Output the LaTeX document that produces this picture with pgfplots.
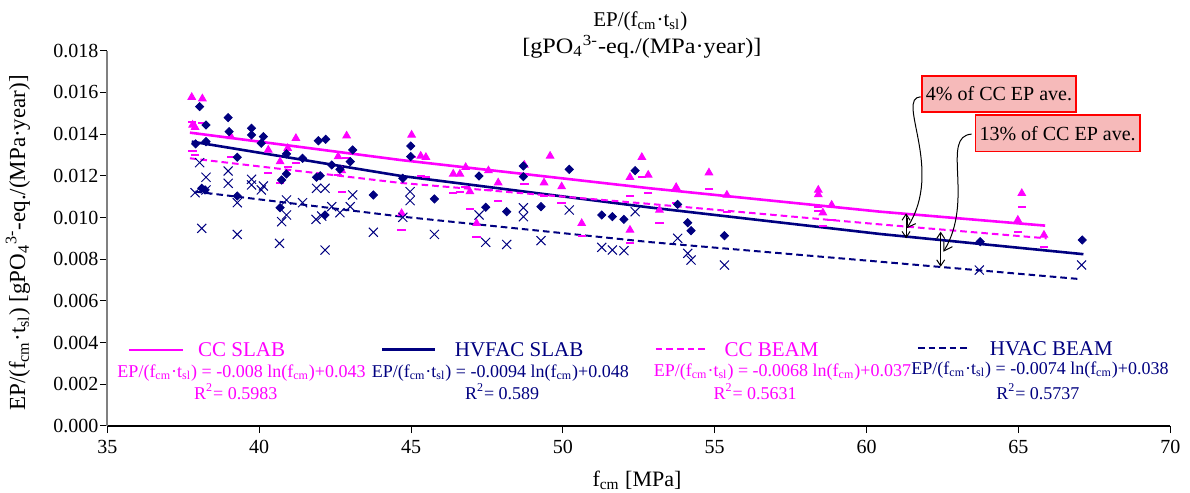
\documentclass[border=0pt]{standalone}
\usepackage{fontspec}
\setmainfont{Liberation Serif}
\usepackage{pgfplots}
\pgfplotsset{compat=1.18}
\usetikzlibrary{arrows.meta}
\definecolor{mag}{RGB}{255,0,255}
\definecolor{nav}{RGB}{0,0,128}
\definecolor{boxfill}{RGB}{246,186,186}
\newcommand{\fcm}{f\textsubscript{cm}}
\newcommand{\tsl}{t\textsubscript{sl}}
\begin{document}
\begin{tikzpicture}
\path[use as bounding box] (-53.65pt,-33.5pt) rectangle (541.35pt,213pt);
\begin{axis}[
  at={(0pt,0pt)}, anchor=south west,
  scale only axis, width=531.5pt, height=187.65pt,
  xmin=35, xmax=70, ymin=0, ymax=0.018,
  axis x line*=bottom, axis y line*=left,
  x axis line style={draw=black, line width=0.6pt},
  y axis line style={draw=gray, line width=1pt},
  xtick={35,40,45,50,55,60,65,70},
  ytick={0,0.002,0.004,0.006,0.008,0.010,0.012,0.014,0.016,0.018},
  scaled y ticks=false,
  yticklabel style={/pgf/number format/.cd, fixed, fixed zerofill, precision=3, /tikz/.cd, inner xsep=0.8pt},
  /pgf/number format/assume math mode=true,
  tick align=outside, major tick length=3.5pt,
  tick style={black, line width=0.5pt},
  tick label style={font=\fontsize{10}{12}\selectfont},
  clip=false,
]
% CC SLAB points
\addplot[only marks, mark=triangle*, mark size=2.2pt, color=mag] coordinates {
(37.78,0.01577) (38.13,0.01570) (37.81,0.01444) (37.89,0.01433) (39.07,0.01388)
(40.30,0.01324) (40.69,0.01268) (40.94,0.01332) (41.21,0.01380) (42.88,0.01392)
(42.60,0.01292) (42.72,0.01225) (45.02,0.01396) (45.32,0.01295) (45.49,0.01289)
(44.69,0.01020) (46.39,0.01209) (46.61,0.01209) (46.80,0.01241) (46.94,0.01124)
(47.16,0.00972) (47.55,0.01225) (47.87,0.01167) (48.73,0.01252) (49.38,0.01167)
(49.58,0.01295) (49.96,0.01148) (50.62,0.00972) (52.21,0.01193) (52.21,0.00940)
(52.60,0.01289) (52.81,0.01204) (53.18,0.01036) (53.73,0.01145) (54.81,0.01215)
(55.40,0.01108) (58.41,0.01132) (58.41,0.01110) (58.85,0.01060) (58.56,0.01023)
(65.11,0.01116) (64.98,0.00988) (65.84,0.00916)
};
% CC BEAM points
\addplot[only marks, mark=-, mark size=2.1pt, color=mag, mark options={line width=1pt}] coordinates {
(37.78,0.01460) (38.13,0.01455) (37.81,0.01319) (37.89,0.01300) (39.07,0.01290)
(40.30,0.01212) (40.69,0.01167) (40.94,0.01240) (41.21,0.01260) (42.88,0.01284)
(42.60,0.01205) (42.72,0.01124) (45.02,0.01292) (45.32,0.01200) (45.49,0.01196)
(44.69,0.00940) (46.39,0.01116) (46.61,0.01120) (46.80,0.01145) (46.94,0.01039)
(47.16,0.00908) (47.55,0.01132) (47.87,0.01081) (48.73,0.01161) (49.38,0.01103)
(49.58,0.01196) (49.96,0.01068) (50.62,0.00911) (52.21,0.01103) (52.21,0.00879)
(52.60,0.01196) (52.81,0.01116) (53.18,0.00972) (53.73,0.01068) (54.81,0.01137)
(55.40,0.01028) (58.41,0.01049) (58.41,0.01030) (58.85,0.00988) (58.56,0.00961)
(65.11,0.01052) (64.98,0.00932) (65.84,0.00860)
};
% HVFAC SLAB points
\addplot[only marks, mark=square*, mark size=1.45pt, color=nav, mark options={rotate=45}] coordinates {
(38.04,0.01532) (38.25,0.01444) (37.91,0.01353) (38.25,0.01364) (38.98,0.01479)
(39.01,0.01412) (39.28,0.01289) (39.75,0.01428) (39.75,0.01396) (40.14,0.01388)
(40.07,0.01356) (38.11,0.01140) (38.22,0.01132) (39.28,0.01103) (40.69,0.01047)
(40.74,0.01180) (40.90,0.01209) (40.90,0.01305) (41.43,0.01284) (41.89,0.01193)
(42.01,0.01200) (41.95,0.01368) (42.19,0.01375) (42.17,0.01012) (42.39,0.01252)
(42.66,0.01231) (43.00,0.01268) (43.08,0.01324) (43.76,0.01108) (44.99,0.01343)
(44.99,0.01292) (44.73,0.01188) (45.77,0.01089) (47.24,0.01199) (47.46,0.01049)
(48.15,0.01028) (48.70,0.01247) (48.70,0.01196) (49.28,0.01052) (50.21,0.01231)
(51.28,0.01012) (51.63,0.01004) (52.01,0.00991) (52.38,0.01225) (53.78,0.01063)
(54.11,0.00975) (54.22,0.00937) (55.32,0.00913) (63.74,0.00884) (67.10,0.00892)
};
% HVAC BEAM points
\addplot[only marks, mark=x, mark size=3.2pt, color=nav, mark options={line width=0.5pt}] coordinates {
(38.04,0.01263) (38.25,0.01193) (37.89,0.01119) (38.25,0.01132) (38.11,0.00948)
(38.98,0.01223) (38.98,0.01164) (39.28,0.01071) (39.28,0.00919) (39.75,0.01183)
(39.75,0.01156) (40.14,0.01151) (40.07,0.01132) (40.90,0.01084) (40.90,0.01012)
(40.74,0.00980) (40.67,0.00876) (41.43,0.01071) (41.89,0.01140) (42.17,0.01140)
(41.87,0.00991) (42.06,0.01007) (42.17,0.00844) (42.39,0.01052) (42.66,0.01023)
(43.00,0.01052) (43.08,0.01108) (43.76,0.00929) (44.97,0.01124) (44.97,0.01081)
(44.73,0.01001) (45.77,0.00919) (47.24,0.01012) (47.46,0.00881) (48.15,0.00871)
(48.70,0.01047) (48.70,0.01004) (49.28,0.00889) (50.21,0.01036) (51.28,0.00857)
(51.63,0.00844) (52.01,0.00841) (52.38,0.01028) (53.78,0.00900) (54.11,0.00828)
(54.22,0.00796) (55.32,0.00772) (63.71,0.00748) (67.08,0.00772)
};
% trend lines
\addplot[mag, line width=1.3pt, no marks] coordinates {
(37.72,0.01407) (44.64,0.01276) (52.87,0.01140) (60.44,0.01028) (65.88,0.00961)};
\addplot[nav, line width=1.3pt, no marks] coordinates {
(37.78,0.01364) (44.64,0.01200) (52.87,0.01048) (60.44,0.00921) (67.14,0.00824)};
\addplot[mag, line width=1pt, no marks, dash pattern=on 3.3pt off 2pt] coordinates {
(37.72,0.01284) (44.64,0.01166) (52.87,0.01065) (60.44,0.00967) (65.93,0.00900)};
\addplot[nav, line width=1pt, no marks, dash pattern=on 3.3pt off 2pt] coordinates {
(37.90,0.01124) (44.64,0.01005) (52.87,0.00882) (60.44,0.00788) (67.00,0.00705)};

% title and labels
\node[anchor=base, font=\fontsize{10.5}{12}\selectfont] at (axis cs:52.55,0.019151) {EP/(\fcm·\tsl)};
\node[anchor=base, font=\fontsize{11}{13}\selectfont] at (axis cs:52.6,0.017876) {\scalebox{1.1}[1]{[gPO\textsubscript{4}\textsuperscript{3-}-eq./(MPa·year)]}};
\node[font=\fontsize{11.5}{14}\selectfont, rotate=90] at (axis cs:32.06,0.008777) {EP/(\fcm·\tsl) [gPO\textsubscript{4}\textsuperscript{3-}-eq./(MPa·year)]};
\node[font=\fontsize{11}{13}\selectfont] at (axis cs:52.44,-0.00259) {\fcm{} [MPa]};

% legend
\draw[mag, line width=1.3pt] (axis cs:35.71,0.003645) -- (axis cs:37.48,0.003645);
\node[mag, anchor=west, inner sep=0pt, font=\fontsize{10.5}{12}\selectfont] at (axis cs:37.98,0.003645) {CC SLAB};
\node[mag, font=\fontsize{9}{11}\selectfont] at (axis cs:39.42,0.002528) {EP/(\fcm·\tsl) = -0.008 ln(\fcm)+0.043};
\node[mag, font=\fontsize{9}{11}\selectfont] at (axis cs:39.23,0.001645) {R\textsuperscript{2}= 0.5983};

\draw[nav, line width=1.3pt] (axis cs:44.05,0.00368) -- (axis cs:45.80,0.00368);
\node[nav, anchor=west, inner sep=0pt, font=\fontsize{10.5}{12}\selectfont] at (axis cs:46.43,0.00368) {HVFAC SLAB};
\node[nav, font=\fontsize{9}{11}\selectfont] at (axis cs:47.94,0.002528) {EP/(\fcm·\tsl) = -0.0094 ln(\fcm)+0.048};
\node[nav, font=\fontsize{9}{11}\selectfont] at (axis cs:48.0,0.001645) {R\textsuperscript{2}= 0.589};

\draw[mag, line width=1pt, dash pattern=on 3.3pt off 2pt] (axis cs:53.06,0.00368) -- (axis cs:54.75,0.00368);
\node[mag, anchor=west, inner sep=0pt, font=\fontsize{10.5}{12}\selectfont] at (axis cs:55.31,0.00368) {CC BEAM};
\node[mag, font=\fontsize{9}{11}\selectfont] at (axis cs:57.23,0.0026) {EP/(\fcm·\tsl) = -0.0068 ln(\fcm)+0.037};
\node[mag, font=\fontsize{9}{11}\selectfont] at (axis cs:56.33,0.001645) {R\textsuperscript{2}= 0.5631};

\draw[nav, line width=1pt, dash pattern=on 3.3pt off 2pt] (axis cs:61.69,0.00373) -- (axis cs:63.36,0.00373);
\node[nav, anchor=west, inner sep=0pt, font=\fontsize{10.5}{12}\selectfont] at (axis cs:64.05,0.00373) {HVAC BEAM};
\node[nav, font=\fontsize{9}{11}\selectfont] at (axis cs:65.71,0.002686) {EP/(\fcm·\tsl) = -0.0074 ln(\fcm)+0.038};
\node[nav, font=\fontsize{9}{11}\selectfont] at (axis cs:65.64,0.001645) {R\textsuperscript{2}= 0.5737};

% annotations
\draw[line width=0.5pt, {Straight Barb[length=3pt,width=4pt]}-{Straight Barb[length=3pt,width=4pt]}] (axis cs:61.30,0.01020) -- (axis cs:61.30,0.00900);
\draw[line width=0.5pt, {Straight Barb[length=3pt,width=4pt]}-{Straight Barb[length=3pt,width=4pt]}] (axis cs:62.44,0.00932) -- (axis cs:62.44,0.00764);
\draw[line width=0.5pt, -{Straight Barb[length=4pt,width=5pt]}] (axis cs:61.78,0.01579) .. controls (axis cs:60.94,0.01573) and (axis cs:62.58,0.01228) .. (axis cs:61.32,0.00948);
\draw[line width=0.5pt, -{Straight Barb[length=4pt,width=5pt]}] (axis cs:63.46,0.01400) .. controls (axis cs:62.42,0.01390) and (axis cs:63.57,0.01084) .. (axis cs:62.53,0.00836);
\node[draw=red, line width=0.9pt, fill=boxfill, inner xsep=2pt, minimum height=18.3pt, font=\fontsize{10}{12}\selectfont] at (axis cs:64.36,0.01592) {4\% of CC EP ave.};
\node[draw=red, line width=0.9pt, fill=boxfill, inner xsep=2pt, minimum height=18.3pt, font=\fontsize{10}{12}\selectfont] at (axis cs:66.29,0.01404) {13\% of CC EP ave.};
\end{axis}
\end{tikzpicture}
\end{document}
